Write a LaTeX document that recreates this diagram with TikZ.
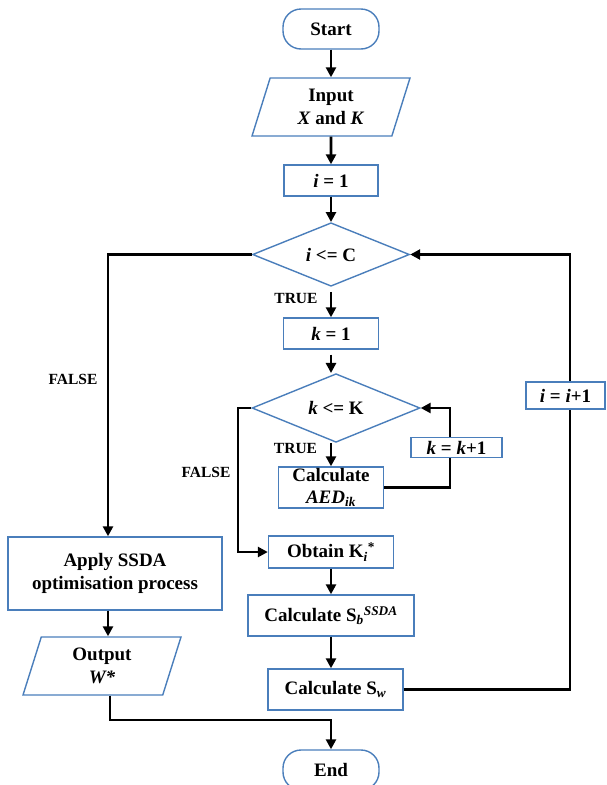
\documentclass[tikz,border=0pt]{standalone}
\usepackage{fontspec}
\setmainfont{Liberation Serif}
\usepackage{tikz}
\usetikzlibrary{shapes,arrows.meta,positioning}
\definecolor{BoxBlue}{RGB}{74,126,187}
\tikzset{
  every node/.style={
    font=\fontsize{19}{23}\selectfont\bfseries
  },
  terminal/.style={
    shape=rectangle,
    rounded corners=18pt,
    draw=BoxBlue,
    line width=1.4pt,
    minimum width=96pt,
    minimum height=40pt,
    inner sep=0pt
  },
  process/.style n args={2}{
    shape=rectangle,
    draw=BoxBlue,
    line width=1.4pt,
    fill=white,
    minimum width=#1,
    minimum height=#2,
    inner sep=0pt,
    align=center
  },
  inout/.style={
    shape=trapezium,
    trapezium left angle=63,
    trapezium right angle=117,
    trapezium stretches body=true,
    draw=BoxBlue,
    line width=1.4pt,
    minimum width=158pt,
    minimum height=58pt,
    inner sep=0pt,
    align=center
  },
  decision/.style n args={2}{
    shape=diamond,
    draw=BoxBlue,
    line width=1.4pt,
    minimum width=#1,
    minimum height=#2,
    inner sep=0pt
  },
  branch/.style={
    font=\fontsize{15.5}{18}\selectfont\bfseries,
    inner sep=0pt
  },
  flow/.style={
    draw=black,
    line width=2.6pt,
    -{Triangle[length=10pt,width=10pt]}
  }
}

\begin{document}
\begin{tikzpicture}[x=1pt,y=-1pt]
    \useasboundingbox (0,0) rectangle (606,785);
    \node[terminal] (start) at (331,29) {Start};
    \node[inout] (input) at (331,107) {Input\\\textit{X} and \textit{K}};
    \node[process={94pt}{31pt}] (ione) at (331,180.5) {\textit{i} = 1};
    \node[decision={157pt}{57pt}] (condi) at (331,254.5) {\textit{i} <= C};
    \node[process={95pt}{31pt}] (kone) at (331,333.5) {\textit{k} = 1};
    \node[decision={168pt}{56pt}] (condk) at (336,408) {\textit{k} <= K};
    \node[process={105pt}{41pt},font=\fontsize{19}{22}\selectfont\bfseries] (aed) at (331,487.5) {Calculate\\\textit{AED}\textsubscript{\textit{ik}}};
    \node[process={125pt}{32pt}] (obtain) at (331,552) {Obtain K\textsubscript{\textit{i}}\textsuperscript{*}};
    \node[process={166pt}{41pt}] (sb) at (331,615.5) {Calculate S\textsubscript{\textit{b}}\textsuperscript{\textit{SSDA}}};
    \node[process={135pt}{41pt}] (sw) at (335.5,689.5) {Calculate S\textsubscript{\textit{w}}};
    \node[process={214pt}{73pt}] (apply) at (115,573.5) {Apply SSDA\\optimisation process};
    \node[inout] (output) at (102,666) {Output\\\textit{W*}};
    \node[terminal] (stop) at (331,770) {End};
    \node[branch] (truei) at (296,298) {TRUE};
    \node[branch] (falsei) at (73,379) {FALSE};
    \node[branch] (truek) at (295.5,448) {TRUE};
    \node[branch] (falsek) at (206,472) {FALSE};
    \coordinate (kloop) at (450,0);
    \coordinate (kfalse) at (238,0);
    \coordinate (iloop) at (570,0);
    \coordinate (ifalse) at (108,0);
    \coordinate (ofalse) at (110,0);
    \coordinate (merge) at (331,720);
    \draw[flow] (start) -- (input);
    \draw[flow] (input) -- (ione);
    \draw[flow] (ione) -- (condi);
    \draw[flow] ([yshift=-5pt]condi.south) -- (kone);
    \draw[flow] ([yshift=-5pt]kone.south) -- (kone.south |- condk.north);
    \draw[flow] (condk.south -| aed.north) -- (aed.north);
    \draw[flow] (aed.east) -| (kloop |- condk.east) -- (condk.east);
    \draw[flow] (condk.west) -| (kfalse |- obtain.west) -- (obtain.west);
    \draw[flow] (obtain) -- (sb);
    \draw[flow] (sb) -- (sb |- sw.north);
    \draw[flow] (sw.east) -| (iloop |- condi.east) -- (condi.east);
    \draw[flow] (condi.west) -| (ifalse |- apply.north);
    \draw[flow] (ifalse |- apply.south) -- (ifalse |- output.north);
    \draw[flow] (ofalse |- output.south) |- (merge) -- (stop);
    \node[process={91pt}{20pt}] (kkone) at (456.5,447.5) {\textit{k} = \textit{k}+1};
    \node[process={79pt}{27pt}] (iione) at (565.5,395.5) {\textit{i} = \textit{i}+1};
\end{tikzpicture}
\end{document}
